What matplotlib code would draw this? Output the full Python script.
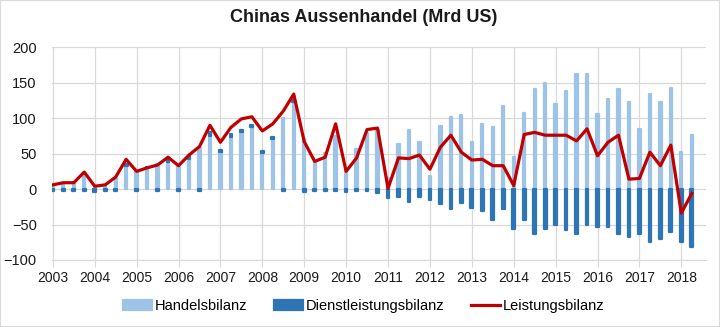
import numpy as np
import matplotlib.pyplot as plt
from matplotlib.patches import Rectangle

plt.rcParams['font.family'] = ['Liberation Sans', 'DejaVu Sans']

# quarterly data 2003Q1 - 2018Q2, Mrd US$
start_year = 2003
handel = [4, 8, 8, 21, 1, 5, 16, 33, 26, 30, 36,
          38, 33, 43, 58, 75, 52, 74, 81, 88, 51,
          71, 100, 123, 70, 39, 51, 75, 28, 56, 79,
          84, 15, 64, 83, 66, 19, 89, 101, 105, 67,
          92, 87, 117, 45, 107, 141, 150, 120, 139, 162,
          162, 106, 127, 141, 123, 85, 134, 123, 143, 53,
          76]
dienst = [-2, -2, -2, -2, -4, -2, -2, 3, -2, 1, -2,
          3, -2, 3, -2, 5, 3, 3, 3, 3, 3,
          3, -2, 3, -4, -3, -3, -2, -4, -3, -2,
          -6, -13, -11, -18, -11, -16, -21, -28, -19, -27,
          -31, -43, -28, -56, -43, -64, -56, -50, -57, -64,
          -51, -53, -53, -64, -67, -64, -74, -70, -61, -75,
          -81]
leistung = [6, 9, 9, 24, 4, 6, 17, 42, 25, 30, 34,
            45, 33, 48, 60, 90, 66, 87, 99, 102, 82,
            92, 110, 134, 67, 39, 45, 92, 25, 44, 84,
            86, 1, 44, 43, 48, 28, 59, 76, 52, 41,
            42, 33, 33, 5, 77, 80, 76, 76, 76, 68,
            85, 47, 66, 76, 14, 15, 52, 33, 62, -34,
            -6]
years = list(range(2003, 2019))

handel = np.array(handel)
dienst = np.array(dienst)
leistung = np.array(leistung)
x = start_year + np.arange(len(handel)) * 0.25

c_light = '#9DC3E6'
c_dark = '#2E75B6'
c_red = '#C00000'
c_grid = '#D9D9D9'

fig = plt.figure(figsize=(7.2, 3.27), dpi=100)
ax = fig.add_axes([0.0722, 0.2049, 0.9084, 0.6505])

# stacked like excel: positive services go on top of positive trade
bottom = np.where(dienst > 0, np.maximum(handel, 0), 0)
b1 = ax.bar(x, handel, width=0.055, color=c_light, edgecolor=c_light, lw=1.6,
            joinstyle='round', label='Handelsbilanz', zorder=2)
b2 = ax.bar(x, dienst, width=0.065, bottom=bottom, color=c_dark, edgecolor=c_dark, lw=1.6,
            joinstyle='round', label='Dienstleistungsbilanz', zorder=2)
l1, = ax.plot(x, leistung, color=c_red, lw=2.3, label='Leistungsbilanz', zorder=3)

ax.set_xlim(2002.98, 2018.59)
ax.set_ylim(-100, 200)
ax.set_yticks(np.arange(-100, 201, 50))
ax.set_xticks(years)
ax.set_xticklabels([str(y) for y in years])
ax.grid(True, color=c_grid, lw=0.9, zorder=0)
ax.set_axisbelow(True)
for s in ['top', 'right', 'left']:
    ax.spines[s].set_visible(False)
ax.spines['bottom'].set_color(c_grid)
ax.tick_params(axis='y', length=0, pad=11, labelsize=10.5, labelcolor='#1a1a1a')
ax.tick_params(axis='x', length=5, color=c_grid, pad=3, labelsize=10, labelcolor='#1a1a1a')

fig.text(0.505, 0.945, 'Chinas Aussenhandel (Mrd US)', ha='center', va='center',
         fontsize=13, fontweight='bold', color='#1a1a1a')

fig.legend(handles=[b1, b2, l1], loc='center', bbox_to_anchor=(0.505, 0.064), ncol=3,
           frameon=False, fontsize=10.5, handlelength=2.0, handletextpad=0.2,
           columnspacing=1.8)

fig.patches.append(Rectangle((0, 0), 1, 1, transform=fig.transFigure, fill=False,
                             edgecolor=c_grid, lw=1.5))

fig.savefig('out.png', dpi=100)
